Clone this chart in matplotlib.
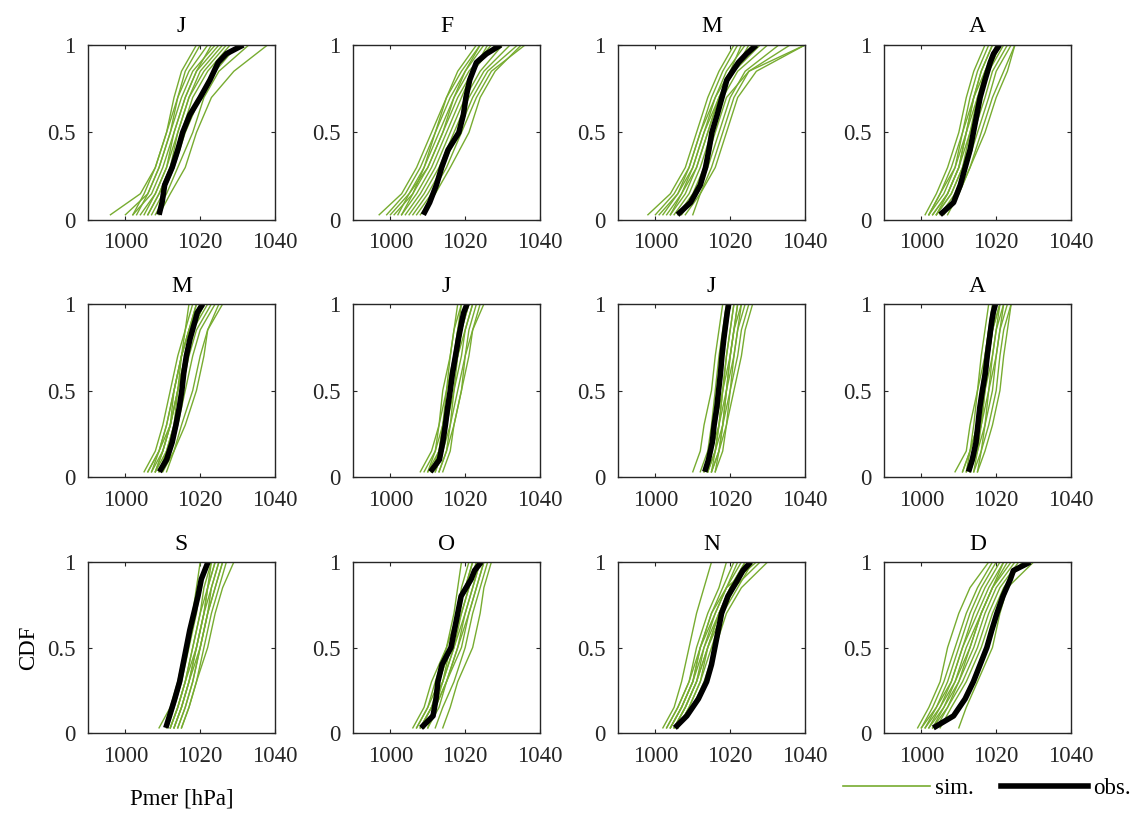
import numpy as np
import matplotlib
matplotlib.use("Agg")
import matplotlib.pyplot as plt
from matplotlib.lines import Line2D

plt.rcParams['font.family'] = ['Liberation Serif', 'DejaVu Serif']

months = ['J', 'F', 'M', 'A', 'M', 'J', 'J', 'A', 'S', 'O', 'N', 'D']

p_obs = [0.03, 0.1, 0.2, 0.3, 0.4, 0.5, 0.6, 0.7, 0.8, 0.9, 0.95, 1.0]
p_sim = [0.03, 0.15, 0.3, 0.5, 0.7, 0.85, 1.0]

# observed Pmer quantiles [hPa] per month
obs = [
    [1009, 1009.8, 1010.5, 1012.5, 1014, 1015.3, 1017.2, 1020, 1022.6, 1024.8, 1027, 1031.5],
    [1008.8, 1010.5, 1012.3, 1013.7, 1015.4, 1018.3, 1019.5, 1020.2, 1021.2, 1023, 1025.7, 1029.5],
    [1005.9, 1009.4, 1012, 1013.4, 1014.3, 1015.1, 1016.5, 1017.8, 1019.1, 1022.2, 1024.4, 1027],
    [1005, 1008.6, 1010.4, 1011.7, 1013, 1013.9, 1014.8, 1015.7, 1017, 1018.4, 1019.3, 1020.9],
    [1009.1, 1011, 1012.5, 1013.5, 1014.4, 1015.1, 1015.6, 1016.3, 1017.3, 1018.6, 1019.2, 1020.7],
    [1010.7, 1013.1, 1014, 1014.7, 1015.3, 1016, 1016.6, 1017.4, 1018.2, 1019.1, 1019.6, 1020.5],
    [1013.2, 1014.2, 1015.2, 1015.7, 1016.4, 1016.9, 1017.4, 1017.8, 1018.3, 1018.9, 1019.2, 1019.6],
    [1012.6, 1013.6, 1014.6, 1015.1, 1015.6, 1016.3, 1017.1, 1017.6, 1018.2, 1018.8, 1019.2, 1019.8],
    [1010.8, 1011.8, 1013.2, 1014.5, 1015.4, 1016.3, 1017.2, 1018.3, 1019.4, 1020.3, 1021.2, 1022.1],
    [1008.2, 1011.4, 1012.2, 1012.7, 1013.8, 1016.2, 1017.1, 1018, 1018.9, 1021.6, 1022.5, 1024.3],
    [1005.2, 1008.4, 1011.5, 1013.7, 1015, 1015.9, 1016.8, 1017.7, 1019.4, 1022.1, 1023.4, 1025.5],
    [1003.2, 1008.6, 1011.7, 1013.9, 1015.7, 1017.5, 1018.8, 1020.2, 1021.8, 1023.8, 1024.6, 1029.1],
]

# simulated Pmer quantiles [hPa], one list of members per month
sim_jan = [
    [996, 1004, 1008, 1011, 1014, 1017, 1022],
    [1000, 1006, 1009, 1012, 1015, 1018, 1024],
    [1002, 1007, 1010, 1013, 1016, 1019, 1025],
    [1003, 1006, 1009, 1012, 1014, 1016, 1020],
    [1004, 1008, 1011, 1014, 1017, 1021, 1027],
    [1005, 1008, 1011, 1013, 1016, 1019, 1023],
    [1006, 1009, 1012, 1015, 1018, 1022, 1028],
    [1007, 1010, 1013, 1016, 1020, 1024, 1030],
    [1008, 1011, 1014, 1018, 1021, 1025, 1033],
    [1009, 1012, 1016, 1019, 1023, 1029, 1038],
    [1002, 1005, 1008, 1011, 1013, 1015, 1019],
    [1006, 1009, 1012, 1014, 1017, 1020, 1026],
]
sim_feb = [
    [997, 1003, 1007, 1011, 1015, 1019, 1024],
    [999, 1004, 1008, 1012, 1016, 1020, 1025],
    [1001, 1006, 1009, 1013, 1017, 1021, 1027],
    [1002, 1005, 1009, 1012, 1015, 1018, 1023],
    [1003, 1007, 1011, 1015, 1019, 1022, 1028],
    [1004, 1008, 1012, 1016, 1020, 1024, 1030],
    [1005, 1009, 1013, 1017, 1021, 1025, 1032],
    [1006, 1010, 1014, 1018, 1022, 1026, 1034],
    [1007, 1011, 1015, 1019, 1023, 1027, 1036],
    [1008, 1012, 1016, 1021, 1024, 1028, 1035],
    [1000, 1005, 1010, 1014, 1018, 1022, 1026],
    [1003, 1006, 1010, 1014, 1017, 1020, 1024],
]
sim_mar = [
    [998, 1004, 1008, 1011, 1014, 1017, 1021],
    [1000, 1005, 1009, 1012, 1015, 1018, 1022],
    [1002, 1006, 1009, 1012, 1016, 1019, 1024],
    [1003, 1007, 1010, 1013, 1016, 1020, 1026],
    [1004, 1008, 1011, 1014, 1017, 1021, 1028],
    [1005, 1009, 1012, 1015, 1018, 1022, 1030],
    [1006, 1010, 1013, 1016, 1019, 1025, 1040],
    [1007, 1011, 1014, 1017, 1020, 1024, 1033],
    [1008, 1012, 1015, 1018, 1021, 1025, 1036],
    [1010, 1012, 1016, 1019, 1022, 1027, 1040],
    [1001, 1006, 1010, 1013, 1017, 1021, 1025],
    [1004, 1007, 1011, 1014, 1017, 1020, 1023],
]
sim_apr = [
    [1001, 1004, 1007, 1010, 1012, 1014, 1017],
    [1002, 1005, 1008, 1011, 1013, 1015, 1018],
    [1002, 1006, 1009, 1011, 1014, 1016, 1019],
    [1003, 1007, 1010, 1012, 1015, 1017, 1020],
    [1003, 1007, 1010, 1013, 1015, 1018, 1021],
    [1004, 1008, 1011, 1013, 1016, 1018, 1022],
    [1004, 1008, 1011, 1014, 1017, 1019, 1023],
    [1005, 1009, 1012, 1015, 1018, 1020, 1024],
    [1006, 1010, 1013, 1016, 1019, 1022, 1025],
    [1007, 1010, 1013, 1017, 1020, 1023, 1025],
    [1002, 1005, 1009, 1012, 1014, 1017, 1021],
    [1004, 1007, 1010, 1012, 1014, 1016, 1019],
]
sim_may = [
    [1005, 1008, 1010, 1012, 1014, 1016, 1017],
    [1006, 1009, 1011, 1013, 1015, 1016, 1018],
    [1007, 1009, 1011, 1013, 1015, 1017, 1019],
    [1007, 1010, 1012, 1014, 1015, 1017, 1020],
    [1008, 1010, 1012, 1014, 1016, 1018, 1021],
    [1008, 1011, 1013, 1014, 1016, 1018, 1022],
    [1009, 1011, 1013, 1015, 1017, 1019, 1023],
    [1009, 1012, 1014, 1016, 1018, 1020, 1024],
    [1010, 1013, 1015, 1018, 1020, 1022, 1026],
    [1011, 1013, 1016, 1019, 1021, 1022, 1025],
    [1006, 1009, 1012, 1013, 1015, 1017, 1019],
    [1008, 1010, 1012, 1014, 1016, 1018, 1021],
]
sim_jun = [
    [1008, 1011, 1013, 1014, 1016, 1017, 1018],
    [1009, 1012, 1013, 1015, 1016, 1017, 1019],
    [1010, 1012, 1014, 1015, 1017, 1018, 1019],
    [1010, 1013, 1014, 1016, 1017, 1018, 1020],
    [1011, 1013, 1015, 1016, 1018, 1019, 1021],
    [1011, 1013, 1015, 1016, 1018, 1019, 1021],
    [1012, 1014, 1015, 1017, 1018, 1020, 1022],
    [1012, 1014, 1016, 1017, 1019, 1020, 1022],
    [1013, 1015, 1016, 1018, 1020, 1021, 1023],
    [1013, 1015, 1017, 1019, 1021, 1022, 1025],
    [1014, 1016, 1017, 1019, 1020, 1022, 1024],
    [1011, 1013, 1014, 1016, 1017, 1019, 1020],
]
sim_jul = [
    [1010, 1012, 1013, 1015, 1016, 1017, 1018],
    [1012, 1014, 1015, 1016, 1017, 1018, 1019],
    [1013, 1015, 1016, 1017, 1018, 1019, 1020],
    [1014, 1015, 1017, 1018, 1019, 1020, 1021],
    [1014, 1016, 1017, 1018, 1020, 1021, 1022],
    [1015, 1016, 1018, 1019, 1020, 1021, 1023],
    [1015, 1017, 1018, 1019, 1021, 1022, 1023],
    [1015, 1017, 1018, 1020, 1021, 1022, 1024],
    [1016, 1017, 1019, 1020, 1022, 1023, 1025],
    [1016, 1018, 1019, 1021, 1023, 1024, 1026],
    [1013, 1015, 1016, 1018, 1019, 1020, 1021],
    [1014, 1016, 1017, 1019, 1020, 1021, 1022],
]
sim_aug = [
    [1009, 1012, 1013, 1015, 1016, 1017, 1018],
    [1011, 1013, 1014, 1015, 1017, 1018, 1019],
    [1012, 1013, 1015, 1016, 1017, 1018, 1020],
    [1012, 1014, 1015, 1017, 1018, 1019, 1021],
    [1013, 1014, 1016, 1017, 1019, 1020, 1021],
    [1013, 1015, 1016, 1018, 1019, 1020, 1022],
    [1014, 1015, 1017, 1018, 1020, 1021, 1022],
    [1014, 1016, 1017, 1019, 1020, 1021, 1023],
    [1015, 1016, 1018, 1020, 1021, 1022, 1024],
    [1015, 1017, 1019, 1021, 1022, 1023, 1024],
    [1011, 1013, 1015, 1016, 1018, 1019, 1020],
    [1013, 1014, 1016, 1017, 1018, 1019, 1021],
]
sim_sep = [
    [1009, 1012, 1014, 1016, 1018, 1019, 1020],
    [1011, 1013, 1015, 1017, 1019, 1020, 1022],
    [1012, 1014, 1016, 1018, 1020, 1021, 1023],
    [1012, 1014, 1016, 1018, 1020, 1022, 1024],
    [1013, 1015, 1017, 1019, 1021, 1022, 1024],
    [1013, 1015, 1017, 1019, 1021, 1023, 1025],
    [1014, 1016, 1018, 1020, 1022, 1023, 1025],
    [1014, 1016, 1018, 1020, 1022, 1024, 1026],
    [1015, 1017, 1019, 1021, 1023, 1025, 1027],
    [1015, 1017, 1019, 1022, 1024, 1026, 1029],
    [1012, 1014, 1016, 1019, 1021, 1022, 1023],
    [1013, 1015, 1017, 1020, 1022, 1024, 1026],
]
sim_oct = [
    [1006, 1009, 1011, 1015, 1017, 1018, 1019],
    [1007, 1010, 1012, 1015, 1018, 1019, 1021],
    [1007, 1010, 1013, 1016, 1018, 1020, 1022],
    [1008, 1011, 1013, 1016, 1019, 1021, 1023],
    [1008, 1011, 1014, 1017, 1019, 1021, 1023],
    [1009, 1012, 1014, 1017, 1020, 1022, 1024],
    [1009, 1012, 1015, 1018, 1020, 1022, 1024],
    [1010, 1013, 1015, 1018, 1021, 1023, 1025],
    [1012, 1014, 1017, 1020, 1022, 1024, 1026],
    [1014, 1016, 1018, 1022, 1024, 1025, 1027],
    [1008, 1011, 1014, 1016, 1018, 1020, 1022],
    [1010, 1012, 1015, 1019, 1021, 1023, 1025],
]
sim_nov = [
    [1002, 1005, 1007, 1009, 1011, 1013, 1015],
    [1003, 1006, 1009, 1011, 1014, 1017, 1019],
    [1003, 1006, 1009, 1012, 1015, 1018, 1021],
    [1004, 1007, 1010, 1012, 1016, 1019, 1022],
    [1004, 1007, 1010, 1013, 1016, 1019, 1023],
    [1005, 1008, 1011, 1013, 1017, 1020, 1024],
    [1005, 1008, 1011, 1014, 1017, 1020, 1024],
    [1006, 1009, 1012, 1014, 1018, 1021, 1025],
    [1006, 1009, 1012, 1015, 1018, 1022, 1026],
    [1006, 1010, 1013, 1016, 1019, 1023, 1030],
    [1004, 1007, 1010, 1012, 1015, 1019, 1027],
    [1005, 1008, 1011, 1014, 1017, 1021, 1028],
]
sim_dec = [
    [999, 1002, 1005, 1007, 1010, 1013, 1018],
    [1000, 1003, 1006, 1009, 1012, 1015, 1019],
    [1000, 1004, 1007, 1010, 1013, 1016, 1020],
    [1001, 1004, 1008, 1011, 1014, 1017, 1021],
    [1001, 1005, 1008, 1011, 1015, 1018, 1022],
    [1002, 1005, 1009, 1012, 1016, 1019, 1023],
    [1002, 1006, 1009, 1013, 1016, 1019, 1024],
    [1003, 1007, 1010, 1014, 1017, 1020, 1025],
    [1004, 1007, 1011, 1015, 1018, 1021, 1026],
    [1005, 1008, 1012, 1016, 1019, 1022, 1027],
    [1010, 1012, 1015, 1019, 1021, 1023, 1030],
    [1003, 1006, 1010, 1013, 1016, 1019, 1022],
]
sims = [sim_jan, sim_feb, sim_mar, sim_apr, sim_may, sim_jun,
        sim_jul, sim_aug, sim_sep, sim_oct, sim_nov, sim_dec]

green = '#77AC30'
fs = 16.5

W, H = 1135, 813
fig = plt.figure(figsize=(W / 100, H / 100), dpi=100)

lefts = [88, 353, 618, 884]
tops = [45, 304, 562]
bottoms = [220, 477, 733]
aw = 187

for i in range(12):
    r, c = divmod(i, 4)
    ah = bottoms[r] - tops[r]
    ax = fig.add_axes([lefts[c] / W, 1 - bottoms[r] / H, aw / W, ah / H])
    for s in sims[i]:
        ax.plot(s, p_sim, color=green, lw=1.0)
    ax.plot(obs[i], p_obs, color='black', lw=4.0, solid_capstyle='butt')
    ax.set_xlim(990, 1040)
    ax.set_ylim(0, 1)
    ax.set_xticks([1000, 1020, 1040])
    ax.set_yticks([0, 0.5, 1])
    ax.set_yticklabels(['0', '0.5', '1'])
    ax.tick_params(direction='in', length=3, width=0.8, top=True, right=True,
                   labelsize=fs, pad=9, colors='#262626')
    for sp in ax.spines.values():
        sp.set_linewidth(1.0)
        sp.set_color('#262626')
    ax.set_title(months[i], fontsize=17, pad=9)
    if i == 8:
        ax.set_xlabel('Pmer [hPa]', fontsize=fs, labelpad=16)
        ax.set_ylabel('CDF', fontsize=fs, labelpad=6)

handles = [Line2D([], [], color=green, lw=1.2), Line2D([], [], color='black', lw=4.0)]
fig.legend(handles, ['sim.', 'obs.'], loc='lower right', bbox_to_anchor=(1.008, 0.0),
           ncol=2, frameon=False, fontsize=fs, handlelength=3.8, handletextpad=0.2,
           columnspacing=1.2, borderaxespad=0.2)

fig.savefig('out.png', dpi=100)
